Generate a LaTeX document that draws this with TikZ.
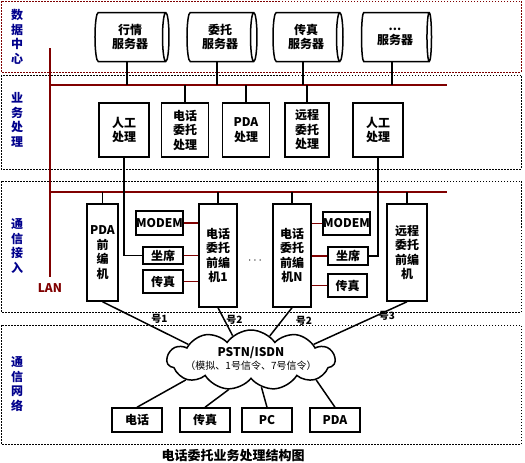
\documentclass[tikz,border=0pt,12pt]{standalone}
\usepackage{fontspec}
\setmainfont{Noto Sans CJK SC}
\usetikzlibrary{shapes.geometric,shapes.symbols}
\definecolor{lanred}{RGB}{128,0,0}
\definecolor{layerblue}{RGB}{0,0,140}
\tikzset{
    layer/.style={draw, dash pattern=on 1.5pt off 1.5pt, line width=0.6pt},
    layername/.style={text=layerblue, font=\bfseries, align=center, inner sep=0pt},
    box/.style={rectangle, draw, line width=1.5pt, fill=white, align=center, inner sep=0pt, font=\bfseries},
    server/.style={cylinder, draw, line width=1.5pt, fill=white, aspect=0.25,
        minimum width=49pt, minimum height=70pt, align=center, inner sep=0pt, font=\bfseries},
    lan/.style={lanred, line width=2.5pt},
    port/.style={lanred, line width=1.5pt},
    wire/.style={line width=1.5pt},
    trunk/.style={font=\bfseries\footnotesize, inner sep=1pt},
}
\begin{document}
\begin{tikzpicture}[x=1pt,y=-1pt]
\useasboundingbox (0,0) rectangle (525,463);
% layers
\draw[layer, lanred] (1,1) rectangle (521,72);
\draw[layer] (1,75) rectangle (521,169);
\draw[layer] (1,181) rectangle (521,312);
\draw[layer] (1,325) rectangle (521,444);
\node[layername] (ldata) at (17,37) {数\\据\\中\\心};
\node[layername] (lbiz) at (17,120) {业\\务\\处\\理};
\node[layername] (lacc) at (17,246) {通\\信\\接\\入};
\node[layername] (lnet) at (17,384) {通\\信\\网\\络};
% LAN
\coordinate (lantop) at (50,48);
\coordinate (lanbot) at (50,277);
\coordinate (bus1a) at (50,85);
\coordinate (bus1b) at (447,85);
\coordinate (bus2a) at (50,192);
\coordinate (bus2b) at (447,192);
\draw[lan] (lantop) -- (lanbot);
\draw[lan] (bus1a) -- (bus1b);
\draw[lan] (bus2a) -- (bus2b);
\node[text=lanred, font=\bfseries] (lanname) at (50,288) {LAN};
% servers
\node[server, minimum height=74pt] (s1) at (130,37) {行情\\服务器};
\node[server] (s2) at (220,37) {委托\\服务器};
\node[server] (s3) at (306,37) {传真\\服务器};
\node[server] (s4) at (395,37) {...\\服务器};
\foreach \s in {s1,s2,s3,s4}
    \draw[wire] ([xshift=-3pt]\s.south) -- ([xshift=-3pt]\s.south |- bus1a);
% business
\node[box, minimum width=50pt, minimum height=54pt] (b1) at (124,130) {人工\\处理};
\node[box, minimum width=47pt, minimum height=54pt] (b2) at (185,130) {电话\\委托\\处理};
\node[box, minimum width=47pt, minimum height=54pt] (b3) at (246,130) {PDA\\处理};
\node[box, minimum width=44pt, minimum height=54pt] (b4) at (307,130) {远程\\委托\\处理};
\node[box, minimum width=50pt, minimum height=54pt] (b5) at (378,130) {人工\\处理};
\foreach \b in {b2,b3,b4}
    \draw[wire] (\b.north) -- (\b.north |- bus1a);
% access
\node[box, minimum width=31pt, minimum height=97pt] (pdafe) at (102.5,252.5) {PDA\\前\\编\\机};
\node[box, minimum width=47pt, minimum height=24pt] (m1) at (159.5,223) {MODEM};
\node[box, minimum width=40pt, minimum height=17pt] (z1) at (163,255.5) {坐席};
\node[box, minimum width=40pt, minimum height=23pt] (c1) at (163,281.5) {传真};
\node[box, minimum width=38pt, minimum height=103pt] (fe1) at (218,255.5) {电话\\委托\\前编\\机1};
\node (dots) at (255,261) {$\cdots$};
\node[box, minimum width=38pt, minimum height=103pt] (feN) at (292,255.5) {电话\\委托\\前编\\机N};
\node[box, minimum width=41pt, minimum height=23pt] (m2) at (346.5,223.5) {MODEM};
\node[box, minimum width=40pt, minimum height=18pt] (z2) at (348,256) {坐席};
\node[box, minimum width=39pt, minimum height=23pt] (c2) at (347.5,285.5) {传真};
\node[box, minimum width=40pt, minimum height=97pt] (rfe) at (407,252.5) {远程\\委托\\前编\\机};
\foreach \f in {pdafe,fe1,feN,rfe}
    \draw[wire] (\f.north) -- (\f.north |- bus2a);
\draw[port] (m1.east) -- (m1.east -| fe1.west);
\draw[port] (z1.east) -- (z1.east -| fe1.west);
\draw[port] (c1.east) -- (c1.east -| fe1.west);
\draw[port] (m2.west) -- (m2.west -| feN.east);
\draw[port] (z2.west) -- (z2.west -| feN.east);
\draw[port] (c2.west) -- (c2.west -| feN.east);
\draw[wire] (b1.south) |- (z1.west);
\draw[wire] (b5.south) |- (z2.east);
% network
\node[cloud, draw, line width=1.5pt, fill=white, cloud puffs=11, cloud puff arc=110, aspect=2.8,
    minimum width=168pt, minimum height=60pt, inner sep=0pt] (pstn) at (251,360)
    {\makebox[60pt]{\begin{tabular}{@{}c@{}}\bfseries PSTN/ISDN\\[-2pt]
     \footnotesize（模拟、1号信令、7号信令）\end{tabular}}};
\draw[wire] (pdafe.south) -- node[trunk, pos=0.55, above right] {号1} (pstn.166);
\draw[wire] (fe1.south) -- node[trunk, pos=0.45, right] {号2} (pstn.127);
\draw[wire] (feN.south) -- node[trunk, pos=0.45, right, xshift=12pt] {号2} (pstn.52);
\draw[wire] (rfe.south) -- node[trunk, pos=0.32, right] {号3} (pstn.14);
\node[box, minimum width=50pt, minimum height=24pt] (t1) at (137,420) {电话};
\node[box, minimum width=50pt, minimum height=24pt] (t2) at (205,420) {传真};
\node[box, minimum width=50pt, minimum height=24pt] (t3) at (267,420) {PC};
\node[box, minimum width=50pt, minimum height=24pt] (t4) at (335,420) {PDA};
\draw[wire] (t1.north) -- (pstn.197);
\draw[wire] (t2.north) -- (pstn.233);
\draw[wire] (t3.north) -- (pstn.291);
\draw[wire] (t4.north) -- (pstn.343);
\node[font=\bfseries\fontsize{13}{15}\selectfont] (title) at (233,456) {电话委托业务处理结构图};
\end{tikzpicture}
\end{document}
